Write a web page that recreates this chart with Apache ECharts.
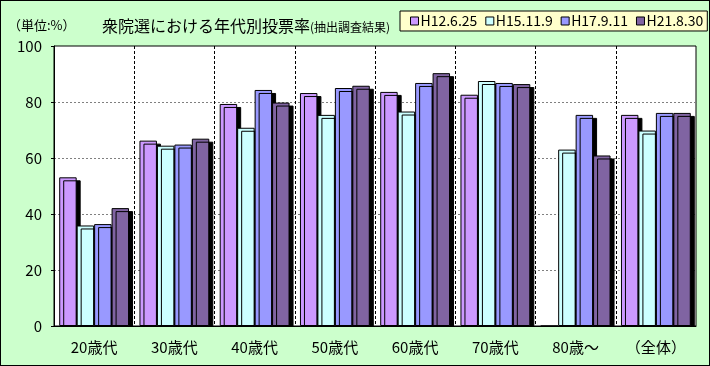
<!DOCTYPE html>
<html><head><meta charset="utf-8">
<script src="https://cdn.jsdelivr.net/npm/echarts@6/dist/echarts.min.js"></script>
<style>
html,body{margin:0;padding:0;background:#CCFFCC;}
#c{width:710px;height:366px;box-sizing:border-box;border:1px solid #000;background:#CCFFCC;}
</style></head>
<body><div id="c"></div>
<script>
const categories = ['20歳代','30歳代','40歳代','50歳代','60歳代','70歳代','80歳～','（全体）'];
const seriesNames = ['H12.6.25','H15.11.9','H17.9.11','H21.8.30'];
const h12 = [53.1, 66.2, 79.3, 83.2, 83.6, 82.6, 0, 75.4];
const h15 = [35.9, 64.4, 70.8, 75.4, 76.6, 87.5, 63.0, 69.8];
const h17 = [36.4, 64.8, 84.3, 85.0, 86.8, 86.8, 75.4, 76.1];
const h21 = [42.1, 66.9, 79.8, 85.8, 90.3, 86.4, 60.9, 76.1];
const colors = ['#CC99FF','#CCFFFF','#9999FF','#8064A2'];
const yTicks = {min:0, max:100, interval:20};

const font = '"Noto Sans CJK JP", sans-serif';
const chart = echarts.init(document.getElementById('c'));
const mk = (name, data, i) => ({
  name, type:'bar', data,
  barGap:'0%', barCategoryGap:'13%',
  itemStyle:{color:colors[i], borderColor:'#000', borderWidth:1,
    shadowColor:'#000', shadowOffsetX:4, shadowOffsetY:3, shadowBlur:0},
  emphasis:{disabled:true}
});
const G = {left:53, right:13, top:45, bottom:39};
chart.setOption({
  animation:false,
  textStyle:{fontFamily:font},
  title:[
    {text:'衆院選における年代別投票率', left:96, top:12, textStyle:{fontFamily:font, fontSize:16, fontWeight:'normal', color:'#000'}},
    {text:'(抽出調査結果)', left:304, top:15, textStyle:{fontFamily:font, fontSize:12, fontWeight:'normal', color:'#000'}},
    {text:'（単位:%）', left:2, top:13, textStyle:{fontFamily:font, fontSize:13, fontWeight:'normal', color:'#000'}}
  ],
  legend:{
    data:seriesNames, left:399, top:10,
    backgroundColor:'#FFFFCC', borderColor:'#000', borderWidth:1,
    padding:[3,4,3,10], itemWidth:8, itemHeight:8, itemGap:8,
    icon:'rect',
    itemStyle:{shadowColor:'transparent', shadowOffsetX:0, shadowOffsetY:0, borderColor:'#000', borderWidth:1},
    textStyle:{fontFamily:font, fontSize:14, color:'#000', padding:[0,0,0,-3]}
  },
  grid:{left:G.left, right:G.right, top:G.top, bottom:G.bottom, show:true, backgroundColor:'#fff', borderColor:'#000', borderWidth:1},
  xAxis:{
    type:'category', data:categories,
    axisLine:{lineStyle:{color:'#000', width:1}},
    axisTick:{show:false},
    axisLabel:{fontFamily:font, fontSize:15, color:'#000', margin:14},
    splitLine:{show:true, showMinLine:false, showMaxLine:false, lineStyle:{color:'#000', type:[3,2], width:1}}
  },
  yAxis:{
    type:'value', min:yTicks.min, max:yTicks.max, interval:yTicks.interval,
    axisLine:{show:true, lineStyle:{color:'#000', width:1}},
    axisTick:{show:true, length:3, lineStyle:{color:'#000'}},
    axisLabel:{fontFamily:font, fontSize:15, color:'#000', margin:12},
    splitLine:{show:true, showMinLine:false, showMaxLine:false, lineStyle:{color:'#808080', type:[2,2], width:1}}
  },
  series:[mk(seriesNames[0],h12,0), mk(seriesNames[1],h15,1), mk(seriesNames[2],h17,2), mk(seriesNames[3],h21,3)]
});
// hide bar shadows that spill below the baseline (cover strip in background colour)
const y0 = Math.round(chart.convertToPixel({yAxisIndex:0}, 0));
chart.setOption({graphic:[{type:'rect', z:100, silent:true,
  shape:{x:G.left - 1, y:y0 + 1, width:710 - G.left - G.right + 8, height:6},
  style:{fill:'#CCFFCC'}}]});
</script></body></html>
